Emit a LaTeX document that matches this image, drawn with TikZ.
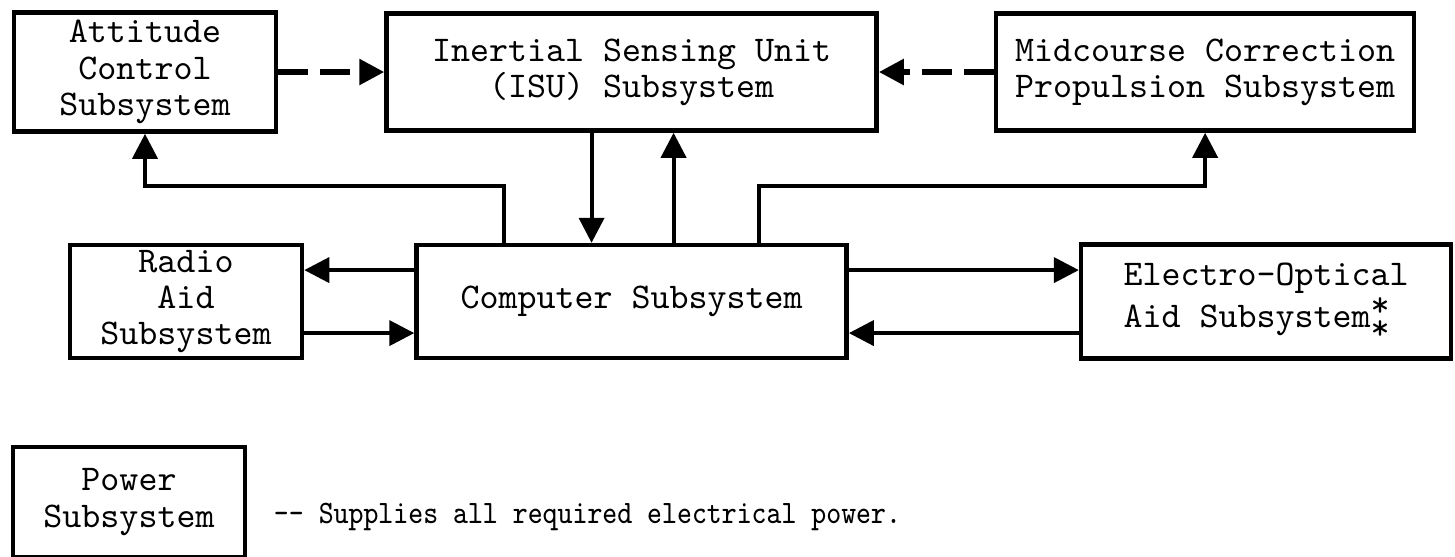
\documentclass[tikz,border=0pt]{standalone}
\usepackage{fontspec}
\usetikzlibrary{arrows.meta,positioning}

\begin{document}
\begin{tikzpicture}[
    box/.style={draw, line width=1.3pt, align=center, inner sep=0pt, minimum height=1.17cm, font=\ttfamily\fontsize{10.3}{10.3}\selectfont},
    link/.style={-{Triangle[length=2.5mm, width=2.5mm]}, line width=1.1pt},
    dashlink/.style={link, line width=1.6pt, dash pattern=on 3mm off 1.2mm},
    note/.style={inner sep=0pt, font=\ttfamily\fontsize{9.3}{10}\selectfont}
  ]
    \useasboundingbox (0,0) rectangle (14.55,-5.56);
    \node[box, minimum width=2.62cm, minimum height=1.19cm] (att) at (1.45,-0.72) {Attitude\\Control\\Subsystem};
    \node[box, minimum width=4.9cm, right=1.06cm of att] (isu) {Inertial Sensing Unit\\(ISU) Subsystem};
    \node[box, minimum width=4.18cm, right=1.15cm of isu] (mid) {Midcourse Correction\\Propulsion Subsystem};
    \node[box, minimum width=4.3cm, minimum height=1.13cm, below=1.1cm of isu] (comp) {Computer Subsystem};
    \node[box, minimum width=2.32cm, minimum height=1.13cm, left=1.1cm of comp] (radio) {Radio\\Aid\\Subsystem};
    \node[box, minimum width=3.7cm, minimum height=1.14cm, right=2.3cm of comp, align=left] (eo) {Electro-Optical\\Aid Subsystem\rlap{\raisebox{0.3em}{*}}\raisebox{-0.35em}{*}};
    \node[box, minimum width=2.32cm, minimum height=1.1cm] (power) at (1.29,-5.02) {Power\\Subsystem};
    \node[note, right=0.26cm of power, yshift=-1.5mm] (supply) {\scalebox{0.87}[1]{-- Supplies all required electrical power.}};
    \draw[dashlink] (att) -- (isu);
    \draw[dashlink] (mid) -- (isu);
    \draw[link] ([xshift=-12.8mm]comp.north) -- ++(0,0.57) -| (att.south);
    \draw[link] ([xshift=-4mm]isu.south) -- ([xshift=-4mm]comp.north);
    \draw[link] ([xshift=4.2mm]comp.north) -- ([xshift=4.2mm]isu.south);
    \draw[link] ([xshift=12.7mm]comp.north) -- ++(0,0.57) -| (mid.south);
    \draw[link] ([yshift=3.15mm]comp.west) -- ([yshift=3.15mm]radio.east);
    \draw[link] ([yshift=-3.15mm]radio.east) -- ([yshift=-3.15mm]comp.west);
    \draw[link] ([yshift=3.15mm]comp.east) -- ([yshift=3.15mm]comp.east -| eo.west);
    \draw[link] ([yshift=-3.15mm]comp.east -| eo.west) -- ([yshift=-3.15mm]comp.east);
  \end{tikzpicture}
\end{document}
